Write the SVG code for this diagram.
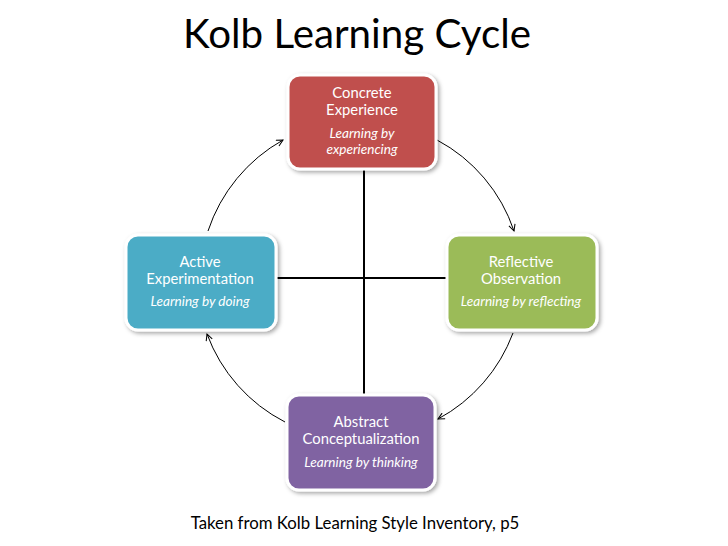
<svg xmlns="http://www.w3.org/2000/svg" width="728" height="546" viewBox="0 0 728 546">
<defs>
<filter id="sh" x="-20%" y="-20%" width="140%" height="140%">
<feDropShadow dx="2" dy="2" stdDeviation="2" flood-color="#000" flood-opacity="0.35"/>
</filter>
<marker id="ah" viewBox="0 0 10 10" refX="9" refY="5" markerWidth="8" markerHeight="8" markerUnits="userSpaceOnUse" orient="auto">
<path d="M1,1 L9,5 L1,9" fill="none" stroke="#000" stroke-width="1.3"/>
</marker>
</defs>
<style>
.box{stroke:#fff;stroke-width:3;filter:url(#sh)}
.t{font-family:Lato,"Open Sans",sans-serif;font-size:14.8px;fill:#fff;text-anchor:middle}
.i{font-family:Lato,"Open Sans",sans-serif;font-size:13.6px;font-style:italic;fill:#fff;text-anchor:middle}
.arc{fill:none;stroke:#000;stroke-width:1;marker-end:url(#ah)}
.ax{stroke:#000;stroke-width:2}
</style>
<rect width="728" height="546" fill="#fff"/>
<text x="357" y="48" font-family="Lato,'Open Sans',sans-serif" font-size="40.3" text-anchor="middle" fill="#000">Kolb Learning Cycle</text>
<g id="connectors">
<line class="ax" x1="364" y1="168" x2="364" y2="396"/>
<line class="ax" x1="276" y1="278" x2="448" y2="278"/>
<path class="arc" d="M208,231 A163,163 0 0 1 283,140"/>
<path class="arc" d="M437,140 A161,161 0 0 1 514,231"/>
<path class="arc" d="M513,333 A162,162 0 0 1 438,419"/>
<path class="arc" d="M285,422 A162,162 0 0 1 207,334"/>
</g>
<g id="concrete">
<rect class="box" x="288" y="75" width="148" height="94" rx="12" fill="#C0504D"/>
<text class="t" x="362" y="98">Concrete</text>
<text class="t" x="362" y="115">Experience</text>
<text class="i" x="362" y="138">Learning by</text>
<text class="i" x="362" y="154">experiencing</text>
</g>
<g id="active">
<rect class="box" x="126" y="235" width="150" height="95" rx="12" fill="#4BACC6"/>
<text class="t" x="200" y="267">Active</text>
<text class="t" x="200" y="284">Experimentation</text>
<text class="i" x="200" y="306">Learning by doing</text>
</g>
<g id="reflective">
<rect class="box" x="447" y="235" width="150" height="95" rx="12" fill="#9BBB59"/>
<text class="t" x="521" y="267">Reflective</text>
<text class="t" x="521" y="284">Observation</text>
<text class="i" x="521" y="306">Learning by reflecting</text>
</g>
<g id="abstract">
<rect class="box" x="287" y="395" width="148" height="95" rx="12" fill="#8064A2"/>
<text class="t" x="361" y="427">Abstract</text>
<text class="t" x="361" y="444">Conceptualization</text>
<text class="i" x="361" y="467">Learning by thinking</text>
</g>
<text x="355" y="529" font-family="Lato,'Open Sans',sans-serif" font-size="16.8" text-anchor="middle" fill="#000">Taken from Kolb Learning Style Inventory, p5</text>
</svg>
